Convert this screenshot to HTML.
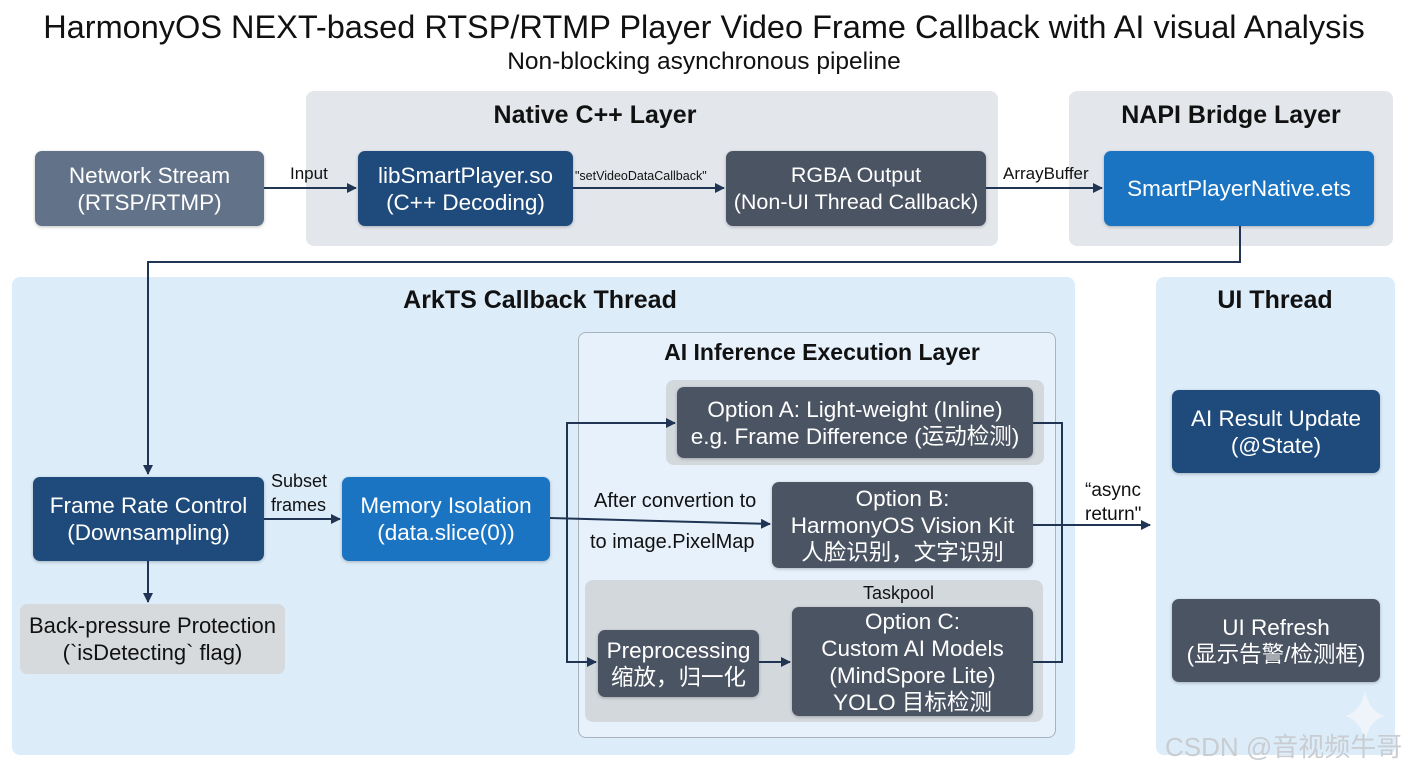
<!DOCTYPE html>
<html><head><meta charset="utf-8"><style>
*{margin:0;padding:0;box-sizing:border-box}
body{width:1408px;height:768px;background:#fff;position:relative;overflow:hidden;font-family:"Liberation Sans","Noto Sans CJK SC",sans-serif;color:#111}
.a{position:absolute}
.p{position:absolute;border-radius:8px}
.b{position:absolute;border-radius:7px;color:#fff;display:flex;flex-direction:column;justify-content:center;align-items:center;text-align:center;font-size:22.5px;line-height:27px;box-shadow:0 1px 3px rgba(0,0,0,.25);white-space:nowrap}
.t{position:absolute;font-weight:bold;font-size:25px;transform:translateX(-50%);white-space:nowrap}
.l{position:absolute;font-size:17px;white-space:nowrap;line-height:22px}
.navy{background:#1e4b7b}.gray{background:#4b5463}.blue{background:#1a74c2}.slate{background:#627389}
</style></head><body>
<div class="a" style="left:0;width:1408px;top:9px;text-align:center;font-size:32.5px;white-space:nowrap">HarmonyOS NEXT-based RTSP/RTMP Player Video Frame Callback with AI visual Analysis</div>
<div class="a" style="left:0;width:1408px;top:48px;text-align:center;font-size:24.5px">Non-blocking asynchronous pipeline</div>

<div class="p" style="left:306px;top:91px;width:692px;height:155px;background:#e3e7ec"></div>
<div class="p" style="left:1069px;top:91px;width:324px;height:155px;background:#e3e7ec"></div>
<div class="t" style="left:595px;top:101px">Native C++ Layer</div>
<div class="t" style="left:1231px;top:101px">NAPI Bridge Layer</div>

<div class="p" style="left:12px;top:277px;width:1063px;height:478px;background:#dcecf9"></div>
<div class="p" style="left:1156px;top:277px;width:239px;height:478px;background:#dcecf9"></div>
<div class="t" style="left:540px;top:286px">ArkTS Callback Thread</div>
<div class="t" style="left:1275px;top:286px">UI Thread</div>

<div class="p" style="left:578px;top:332px;width:478px;height:406px;background:#e6f1fb;border:1.5px solid #a9b3bd"></div>
<div class="t" style="left:822px;top:339px;font-size:23px">AI Inference Execution Layer</div>
<div class="p" style="left:666px;top:380px;width:378px;height:85px;background:#d3d8dd"></div>
<div class="p" style="left:585px;top:580px;width:458px;height:142px;background:#d3d8dd"></div>
<div class="l" style="left:863px;top:582px;font-size:18px">Taskpool</div>

<div class="b slate" style="left:35px;top:151px;width:229px;height:75px">Network Stream<br>(RTSP/RTMP)</div>
<div class="b navy" style="left:358px;top:151px;width:215px;height:75px">libSmartPlayer.so<br>(C++ Decoding)</div>
<div class="b gray" style="left:726px;top:151px;width:260px;height:75px;font-size:21.5px">RGBA Output<br>(Non-UI Thread Callback)</div>
<div class="b blue" style="left:1104px;top:151px;width:270px;height:75px">SmartPlayerNative.ets</div>

<div class="b navy" style="left:33px;top:477px;width:231px;height:84px">Frame Rate Control<br>(Downsampling)</div>
<div class="b" style="left:20px;top:604px;width:265px;height:70px;background:#d7dadd;color:#111;box-shadow:none;font-size:22px">Back-pressure Protection<br>(`isDetecting` flag)</div>
<div class="b blue" style="left:342px;top:477px;width:208px;height:84px">Memory Isolation<br>(data.slice(0))</div>

<div class="b gray" style="left:677px;top:387px;width:356px;height:71px;font-size:22.5px">Option A: Light-weight (Inline)<br>e.g. Frame Difference (运动检测)</div>
<div class="b gray" style="left:772px;top:482px;width:261px;height:86px;font-size:22.5px">Option B:<br>HarmonyOS Vision Kit<br>人脸识别，文字识别</div>
<div class="b gray" style="left:598px;top:630px;width:161px;height:67px;font-size:22.5px">Preprocessing<br>缩放，归一化</div>
<div class="b gray" style="left:792px;top:607px;width:241px;height:109px;font-size:22.5px">Option C:<br>Custom AI Models<br>(MindSpore Lite)<br>YOLO 目标检测</div>

<div class="b navy" style="left:1172px;top:390px;width:208px;height:83px">AI Result Update<br>(@State)</div>
<div class="b gray" style="left:1172px;top:599px;width:208px;height:83px">UI Refresh<br>(显示告警/检测框)</div>

<div class="l" style="left:290px;top:163px">Input</div>
<div class="l" style="left:575px;top:165px;font-size:12.5px">"setVideoDataCallback"</div>
<div class="l" style="left:1003px;top:163px">ArrayBuffer</div>
<div class="l" style="left:271px;top:469px;line-height:24px;font-size:18px">Subset<br>frames</div>
<div class="l" style="left:594px;top:490px;font-size:20px">After convertion to</div>
<div class="l" style="left:590px;top:531px;font-size:20px">to image.PixelMap</div>
<div class="l" style="left:1085px;top:479px;line-height:24px;font-size:19px">“async<br>return"</div>

<svg class="a" style="left:0;top:0" width="1408" height="768">
<defs><marker id="m" markerWidth="10" markerHeight="10" refX="9" refY="5" orient="auto" markerUnits="userSpaceOnUse"><path d="M0,0 L10,5 L0,10 z" fill="#1f3553"/></marker></defs>
<g stroke="#1f3553" stroke-width="2" fill="none">
<path d="M264 188 H356" marker-end="url(#m)"/>
<path d="M573 188 H724" marker-end="url(#m)"/>
<path d="M986 188 H1102" marker-end="url(#m)"/>
<path d="M1240 226 V262 H148 V474" marker-end="url(#m)"/>
<path d="M148 561 V602" marker-end="url(#m)"/>
<path d="M264 519 H340" marker-end="url(#m)"/>
<path d="M550 518 L770 524" marker-end="url(#m)"/>
<path d="M567 519 V423 H675" marker-end="url(#m)"/>
<path d="M567 519 V662 H596" marker-end="url(#m)"/>
<path d="M759 662 H790" marker-end="url(#m)"/>
<path d="M1033 423 H1062 V662 H1033"/>
<path d="M1033 525 H1150" marker-end="url(#m)"/>
</g>
<path d="M1365 690 Q1369 712 1385 716 Q1369 720 1365 742 Q1361 720 1345 716 Q1361 712 1365 690z" fill="#eef4fa"/>
</svg>
<div class="a" style="left:1165px;top:727px;font-size:26px;color:#c9cdd1;white-space:nowrap">CSDN @音视频牛哥</div>
</body></html>
